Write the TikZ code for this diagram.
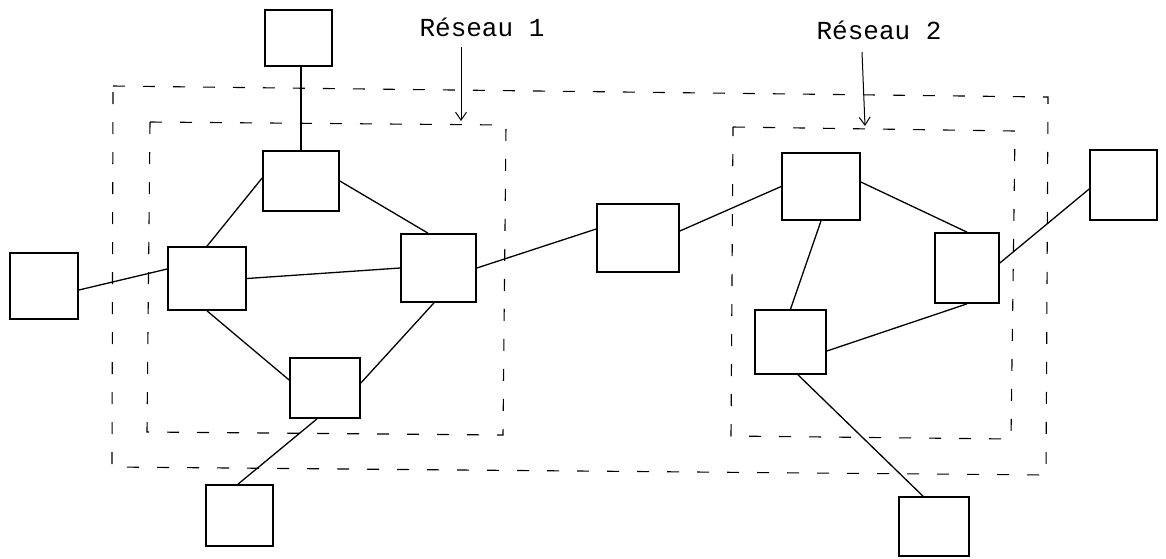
\documentclass[tikz,border=0pt]{standalone}
\usepackage{fontspec}
\newfontfamily\monofnt{Liberation Mono}
\usetikzlibrary{arrows.meta,calc}
\tikzset{
  box/.style={draw, line width=1.7pt, inner sep=0pt, fill=white},
  link/.style={line width=1.3pt},
  zone/.style={line width=1.1pt, dash pattern=on 12pt off 18pt},
  lbl/.style={inner sep=0pt, anchor=base, font=\monofnt\fontsize{26}{30}\selectfont},
  arr/.style={line width=1pt, -{Straight Barb[length=8pt,width=11pt,line width=1pt]}}
}
\begin{document}
\begin{tikzpicture}[x=1pt,y=-1pt]
\useasboundingbox (0,0) rectangle (1166,558);
% zones
\draw[zone] (113,86) -- (1048,97) -- (1046,475) -- (112,467) -- cycle;
\draw[zone] (150,122) -- (506,125) -- (503,435) -- (147,432) -- cycle;
\draw[zone] (733,127) -- (1015,131) -- (1011,439) -- (731,436) -- cycle;
% labels
\node[lbl] (t1) at (482,36) {Réseau 1};
\node[lbl] (t2) at (879,39) {Réseau 2};
\coordinate (a1s) at (461,47);
\coordinate (a1e) at (461,121);
\coordinate (a2s) at (862,52);
\coordinate (a2e) at (865,126);
\draw[arr] (a1s) -- (a1e);
\draw[arr] (a2s) -- (a2e);
% boxes
\node[box, minimum width=67pt, minimum height=56pt] (T) at (298.5,38) {};
\node[box, minimum width=76pt, minimum height=60pt] (A) at (301,181) {};
\node[box, minimum width=78pt, minimum height=63pt] (B) at (207,278.5) {};
\node[box, minimum width=75pt, minimum height=68pt] (C) at (438.5,268) {};
\node[box, minimum width=68pt, minimum height=66pt] (L) at (44,286) {};
\node[box, minimum width=70pt, minimum height=60pt] (D) at (325,388) {};
\node[box, minimum width=67pt, minimum height=61pt] (BL) at (239.5,515.5) {};
\node[box, minimum width=82pt, minimum height=68pt] (M) at (638,238) {};
\node[box, minimum width=78pt, minimum height=67pt] (E) at (821,186.5) {};
\node[box, minimum width=64pt, minimum height=70pt] (F) at (967,268) {};
\node[box, minimum width=67pt, minimum height=70pt] (R) at (1123.5,185) {};
\node[box, minimum width=71pt, minimum height=64pt] (G) at (790.5,342) {};
\node[box, minimum width=70pt, minimum height=59pt] (BR) at (934,526.5) {};
% links
\draw[link] (A.north) -- (A.north |- T.south);
\draw[link] ($(A.west)+(0,-3)$) -- (B.north);
\draw[link] (A.east) -- ($(C.north)+(-10.5,0)$);
\draw[link] (B.east) -- (C.west);
\draw[link] ($(L.east)+(0,4)$) -- ($(B.west)+(0,-9.5)$);
\draw[link] (B.south) -- ($(D.west)+(0,-8)$);
\draw[link] ($(C.south)+(-4.5,0)$) -- ($(D.east)+(0,-5)$);
\draw[link] ($(D.south)+(-8,0)$) -- ($(BL.north)+(-1.5,0)$);
\draw[link] (C.east) -- ($(M.west)+(0,-9)$);
\draw[link] ($(M.east)+(0,-7)$) -- (E.west);
\draw[link] ($(E.east)+(0,-4.5)$) -- (F.north);
\draw[link] (E.south) -- (G.north);
\draw[link] ($(G.east)+(0,9)$) -- (F.south);
\draw[link] ($(F.east)+(0,-5)$) -- ($(R.west)+(0,4)$);
\draw[link] ($(G.south)+(7.5,0)$) -- ($(BR.north)+(-11,0)$);
\end{tikzpicture}
\end{document}
